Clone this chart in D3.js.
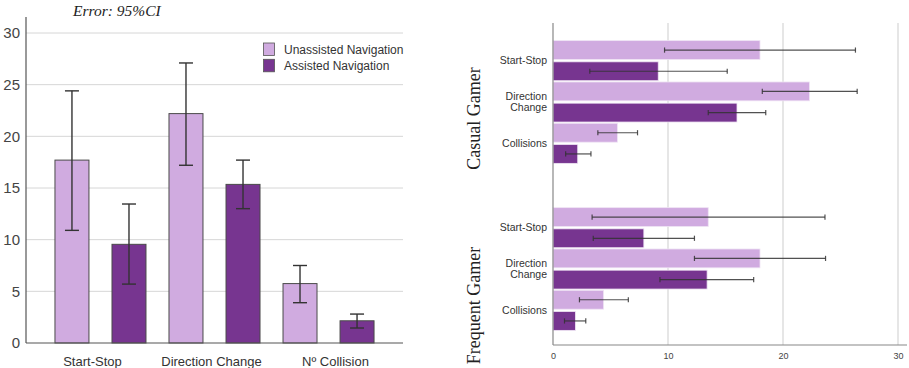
<!DOCTYPE html>
<html>
<head>
<meta charset="utf-8">
<script src="https://cdn.jsdelivr.net/npm/d3@7"></script>
<style>
  html, body { margin: 0; padding: 0; background: #fff; }
  svg { display: block; }
</style>
</head>
<body>
<svg id="chart" width="909" height="368"></svg>
<script>
// ---- Overall means with 95% confidence intervals ----
const measures = ["Start-Stop", "Direction Change", "Nº Collision"];
const series = ["Unassisted Navigation", "Assisted Navigation"];
const meanUnassisted = [17.7, 22.2, 5.75];
const lowUnassisted = [10.9, 17.2, 3.9];
const highUnassisted = [24.4, 27.1, 7.5];
const meanAssisted = [9.55, 15.35, 2.15];
const lowAssisted = [5.7, 13.0, 1.45];
const highAssisted = [13.45, 17.7, 2.8];
const yTicks = [0, 5, 10, 15, 20, 25, 30];

// ---- Means by gamer profile ----
const gamerGroups = ["Casual Gamer", "Frequent Gamer"];
const tasks = ["Start-Stop", "Direction Change", "Collisions"];
const casualUnassisted = [18.0, 22.3, 5.6];
const casualUnassistedLow = [9.7, 18.2, 3.9];
const casualUnassistedHigh = [26.3, 26.45, 7.35];
const casualAssisted = [9.15, 16.0, 2.15];
const casualAssistedLow = [3.2, 13.5, 1.1];
const casualAssistedHigh = [15.15, 18.5, 3.3];
const frequentUnassisted = [13.5, 18.0, 4.4];
const frequentUnassistedLow = [3.4, 12.3, 2.3];
const frequentUnassistedHigh = [23.65, 23.7, 6.55];
const frequentAssisted = [7.9, 13.4, 1.95];
const frequentAssistedLow = [3.5, 9.3, 1.0];
const frequentAssistedHigh = [12.3, 17.45, 2.85];
const xTicks = [0, 10, 20, 30];

const colors = { "Unassisted Navigation": "#d0abe0", "Assisted Navigation": "#773590" };
const svg = d3.select("#chart");

// =================== Left: grouped vertical bars ===================
const L = { left: 26, right: 403, top: 17, bottom: 343 };
const y = d3.scaleLinear().domain([0, 30]).range([343, 33]);
const x0 = d3.scaleBand().domain(measures).range([L.left, L.right])
  .paddingInner(0.2018).paddingOuter(0.254);
const x1 = d3.scaleBand().domain(series).range([0, x0.bandwidth()]).paddingInner(0.404);

const leftRows = [];
measures.forEach((m, i) => {
  leftRows.push({ m, s: series[0], v: meanUnassisted[i], lo: lowUnassisted[i], hi: highUnassisted[i] });
  leftRows.push({ m, s: series[1], v: meanAssisted[i], lo: lowAssisted[i], hi: highAssisted[i] });
});

const left = svg.append("g");

// gridlines
left.append("g").selectAll("line").data(yTicks.filter(t => t > 0)).join("line")
  .attr("x1", L.left).attr("x2", L.right)
  .attr("y1", d => y(d)).attr("y2", d => y(d))
  .attr("stroke", "#d6d6d6").attr("stroke-width", 1);

// y axis
const yAxis = left.append("g").attr("transform", `translate(${L.left},0)`)
  .call(d3.axisLeft(y).tickValues(yTicks).tickSize(0).tickPadding(6));
yAxis.select(".domain").remove();
yAxis.selectAll("text").attr("font-family", "Liberation Sans, Arial, sans-serif")
  .attr("font-size", 15).attr("fill", "#444");
left.append("line").attr("x1", L.left).attr("x2", L.left).attr("y1", L.top).attr("y2", L.bottom)
  .attr("stroke", "#555").attr("stroke-width", 1.2);

// bars
left.append("g").selectAll("rect").data(leftRows).join("rect")
  .attr("x", d => x0(d.m) + x1(d.s))
  .attr("y", d => y(d.v))
  .attr("width", x1.bandwidth())
  .attr("height", d => y(0) - y(d.v))
  .attr("fill", d => colors[d.s])
  .attr("stroke", "#4a4a4a").attr("stroke-width", 1);

// x axis baseline
left.append("line").attr("x1", L.left).attr("x2", L.right).attr("y1", y(0)).attr("y2", y(0))
  .attr("stroke", "#555").attr("stroke-width", 1.2);

// error bars
const capW = 7;
const eb = left.append("g").attr("stroke", "#333").attr("stroke-width", 1.4);
leftRows.forEach(d => {
  const cx = x0(d.m) + x1(d.s) + x1.bandwidth() / 2;
  eb.append("line").attr("x1", cx).attr("x2", cx).attr("y1", y(d.hi)).attr("y2", y(d.lo));
  eb.append("line").attr("x1", cx - capW).attr("x2", cx + capW).attr("y1", y(d.hi)).attr("y2", y(d.hi));
  eb.append("line").attr("x1", cx - capW).attr("x2", cx + capW).attr("y1", y(d.lo)).attr("y2", y(d.lo));
});

// category labels
const labelNudge = [-8, -3, 7];
left.append("g").selectAll("text").data(measures).join("text")
  .attr("x", (d, i) => x0(d) + x0.bandwidth() / 2 + labelNudge[i])
  .attr("y", 366)
  .attr("text-anchor", "middle")
  .attr("font-family", "Liberation Sans, Arial, sans-serif")
  .attr("font-size", 13).attr("fill", "#333")
  .text(d => d);

// legend
const legend = left.append("g");
series.forEach((s, i) => {
  legend.append("rect").attr("x", 263.5).attr("y", 43 + i * 16.3).attr("width", 11).attr("height", 12.5)
    .attr("fill", colors[s]).attr("stroke", "#555").attr("stroke-width", 0.8);
  legend.append("text").attr("x", 284).attr("y", 54 + i * 16.3)
    .attr("font-family", "Liberation Sans, Arial, sans-serif").attr("font-size", 12).attr("fill", "#333")
    .text(s);
});

// subtitle
left.append("text").attr("x", 73).attr("y", 16)
  .attr("font-family", "Liberation Serif, Times New Roman, serif")
  .attr("font-style", "italic").attr("font-size", 15.5).attr("fill", "#222")
  .text("Error: 95%CI");

// =================== Right: faceted horizontal bars ===================
const R = { left: 553, right: 907, top: 23, bottom: 345 };
const xr = d3.scaleLinear().domain([0, 30]).range([553, 898]);
const fy = d3.scaleBand().domain(gamerGroups).range([R.top, R.bottom]).paddingInner(0.072);
const ty = d3.scaleBand().domain(tasks).range([17, 141]);
const sy = d3.scaleBand().domain(series).range([0, ty.bandwidth()]).paddingInner(0.11).paddingOuter(0.03);

const rightRows = [];
const facetData = {
  "Casual Gamer": [casualUnassisted, casualUnassistedLow, casualUnassistedHigh, casualAssisted, casualAssistedLow, casualAssistedHigh],
  "Frequent Gamer": [frequentUnassisted, frequentUnassistedLow, frequentUnassistedHigh, frequentAssisted, frequentAssistedLow, frequentAssistedHigh]
};
gamerGroups.forEach(g => {
  const [u, ul, uh, a, al, ah] = facetData[g];
  tasks.forEach((t, i) => {
    rightRows.push({ g, t, s: series[0], v: u[i], lo: ul[i], hi: uh[i] });
    rightRows.push({ g, t, s: series[1], v: a[i], lo: al[i], hi: ah[i] });
  });
});

const right = svg.append("g");

// vertical gridlines
right.append("g").selectAll("line").data(xTicks.filter(t => t > 0)).join("line")
  .attr("x1", d => xr(d)).attr("x2", d => xr(d))
  .attr("y1", R.top).attr("y2", R.bottom)
  .attr("stroke", "#d6d6d6").attr("stroke-width", 1.2);

// bars
right.append("g").selectAll("rect").data(rightRows).join("rect")
  .attr("x", xr(0))
  .attr("y", d => fy(d.g) + ty(d.t) + sy(d.s))
  .attr("width", d => xr(d.v) - xr(0))
  .attr("height", sy.bandwidth())
  .attr("fill", d => colors[d.s])
  .attr("stroke", "#efe4f4").attr("stroke-width", 0.8);

// axes lines
right.append("line").attr("x1", R.left).attr("x2", R.left).attr("y1", R.top).attr("y2", R.bottom)
  .attr("stroke", "#888").attr("stroke-width", 1.2);
right.append("line").attr("x1", R.left).attr("x2", R.right).attr("y1", R.bottom).attr("y2", R.bottom)
  .attr("stroke", "#888").attr("stroke-width", 1.2);

// error bars
const capH = 2.6;
const ebr = right.append("g").attr("stroke", "#333").attr("stroke-width", 1.2).attr("stroke-opacity", 0.85);
rightRows.forEach(d => {
  const cy = fy(d.g) + ty(d.t) + sy(d.s) + sy.bandwidth() / 2;
  ebr.append("line").attr("x1", xr(d.lo)).attr("x2", xr(d.hi)).attr("y1", cy).attr("y2", cy);
  ebr.append("line").attr("x1", xr(d.lo)).attr("x2", xr(d.lo)).attr("y1", cy - capH).attr("y2", cy + capH);
  ebr.append("line").attr("x1", xr(d.hi)).attr("x2", xr(d.hi)).attr("y1", cy - capH).attr("y2", cy + capH);
});

// x tick labels
const xAxis = right.append("g").attr("transform", `translate(0,${R.bottom})`)
  .call(d3.axisBottom(xr).tickValues(xTicks).tickSize(0).tickPadding(8).tickFormat(d3.format("d")));
xAxis.select(".domain").remove();
xAxis.selectAll("text").attr("font-family", "Liberation Sans, Arial, sans-serif")
  .attr("font-size", 9).attr("fill", "#444");

// task labels per facet
gamerGroups.forEach(g => {
  tasks.forEach(t => {
    const cy = fy(g) + ty(t) + ty.bandwidth() / 2;
    const words = t.split(" ");
    const lineH = 11;
    const txt = right.append("text")
      .attr("x", 547).attr("text-anchor", "end")
      .attr("font-family", "Liberation Sans, Arial, sans-serif")
      .attr("font-size", 10.5).attr("fill", "#333");
    words.forEach((w, k) => {
      txt.append("tspan").attr("x", 547)
        .attr("y", cy + 3.8 + (k - (words.length - 1) / 2) * lineH)
        .text(w);
    });
  });
});

// facet titles
const facetShift = [18, 38];
gamerGroups.forEach((g, i) => {
  const cy = fy(g) + fy.bandwidth() / 2 + facetShift[i];
  right.append("text")
    .attr("transform", `translate(480,${cy}) rotate(-90)`)
    .attr("text-anchor", "middle")
    .attr("font-family", "Liberation Serif, Times New Roman, serif")
    .attr("font-size", 18).attr("fill", "#222")
    .text(g);
});
</script>
</body>
</html>
